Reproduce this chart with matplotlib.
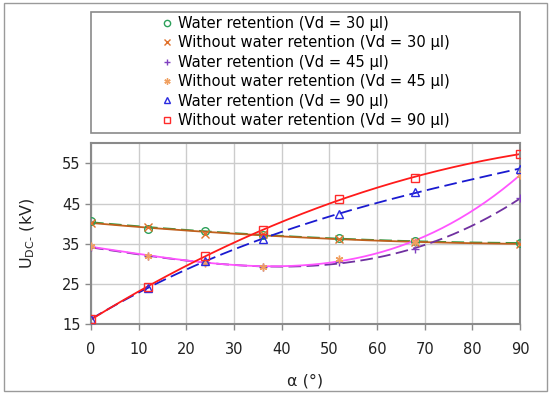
import numpy as np
import matplotlib
matplotlib.use('Agg')
import matplotlib.pyplot as plt
from matplotlib.patches import Rectangle
from matplotlib.lines import Line2D

plt.rcParams['font.family'] = ['DejaVu Sans']
plt.rcParams['mathtext.default'] = 'regular'

# angle of inclination (deg)
alpha = [0, 12, 24, 36, 52, 68, 90]

# breakdown voltage (kV)
wr30 = [40.7, 38.6, 38.1, 37.2, 36.5, 35.6, 35.1]
wo30 = [40.2, 39.2, 37.4, 37.3, 36.2, 35.5, 34.9]
wr45 = [34.1, 31.9, 30.4, 29.1, 30.4, 33.7, 46.3]
wo45 = [34.3, 32.0, 30.3, 29.1, 31.3, 35.3, 52.2]
wr90 = [16.2, 24.0, 30.8, 36.2, 42.3, 47.8, 53.7]
wo90 = [16.2, 24.2, 32.0, 38.3, 46.2, 51.4, 57.4]

labels = ['Water retention (Vd = 30 µl)',
          'Without water retention (Vd = 30 µl)',
          'Water retention (Vd = 45 µl)',
          'Without water retention (Vd = 45 µl)',
          'Water retention (Vd = 90 µl)',
          'Without water retention (Vd = 90 µl)']

series = [wr30, wo30, wr45, wo45, wr90, wo90]
markers = ['o', 'x', '+', (6, 2, 0), '^', 's']
mcolors = ['#2ca05a', '#e0702a', '#8040c0', '#f0a060', '#2a2ae0', '#ff2a2a']
lcolors = ['#2e9a44', '#c0601c', '#7030a0', '#ff55ff', '#1a1ad0', '#ff1a1a']
lstyles = [(0, (7, 3)), '-', (0, (7, 3)), '-', (0, (7, 3)), '-']
degs = [2, 2, 3, 3, 3, 3]

fig = plt.figure(figsize=(5.5, 3.95), dpi=100)
ax = fig.add_axes([0.1655, 0.18, 0.78, 0.457])

xs = np.linspace(0, 90, 200)
handles = []
for y, m, mc, lc, ls, d, lab in zip(series, markers, mcolors, lcolors, lstyles, degs, labels):
    # polynomial trendline through the measured points
    c = np.polyfit(alpha, y, d)
    ax.plot(xs, np.polyval(c, xs), color=lc, ls=ls, lw=1.3, zorder=2)
    ax.plot(alpha, y, ls='none', marker=m, ms=5.5, mfc='none', mec=mc, mew=1.0, zorder=3)
    handles.append(Line2D([], [], ls='none', marker=m, ms=4.5, mfc='none', mec=mc, mew=1.0))

ax.set_xlim(0, 90)
ax.set_ylim(15, 60)
ax.set_xticks(range(0, 91, 10))
ax.set_yticks(range(15, 56, 10))
ax.grid(True, color='#cccccc', lw=1.0)
ax.set_axisbelow(True)
for s in ax.spines.values():
    s.set_color('#8a8a8a')
    s.set_linewidth(1.5)
ax.tick_params(colors='#8a8a8a', labelcolor='#222222', labelsize=10.5, length=4, width=1)
ax.tick_params(axis='x', pad=9)
ax.set_xlabel('α (°)', fontsize=11.5, color='#222222', labelpad=12)
ax.set_ylabel(r'U$_{DC\text{-}}$ (kV)', fontsize=11.5, color='#222222', labelpad=18)

leg = fig.legend(handles, labels, loc='center', bbox_to_anchor=(0.5555, 0.818),
                 frameon=False, fontsize=10.6, handlelength=0.8, handletextpad=0.35,
                 labelspacing=0.3, borderpad=0)
# legend frame spanning the plot width
fig.patches.append(Rectangle((0.1655, 0.663), 0.78, 0.307, transform=fig.transFigure,
                             fill=False, ec='#8a8a8a', lw=1.2))
# outer frame
fig.patches.append(Rectangle((0.007, 0.01), 0.988, 0.982, transform=fig.transFigure,
                             fill=False, ec='#9a9a9a', lw=1.0))

fig.savefig('out.png', dpi=100)
